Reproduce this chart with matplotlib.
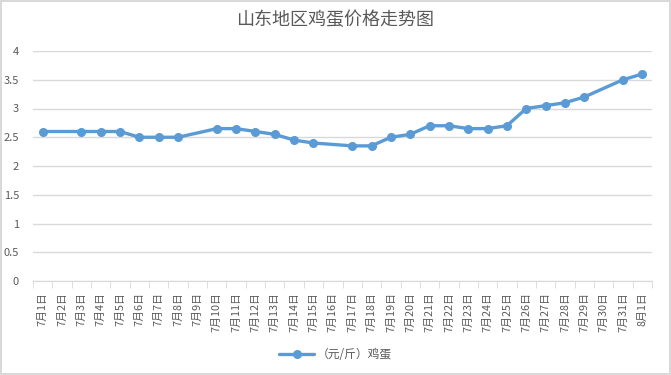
import numpy as np
import matplotlib
matplotlib.use('Agg')
import matplotlib.pyplot as plt

plt.rcParams['font.family'] = ['Noto Sans CJK SC', 'DejaVu Sans']

# ==== data ==== #
TITLE = '山东地区鸡蛋价格走势图'
SERIES_NAME = '（元/斤）鸡蛋'
dates = ['7月%d日' % d for d in range(1, 32)] + ['8月1日']
prices = [2.6, None, 2.6, 2.6, 2.6, 2.5, 2.5, 2.5, None, 2.65,
          2.65, 2.6, 2.55, 2.45, 2.4, None, 2.35, 2.35, 2.5, 2.55,
          2.7, 2.7, 2.65, 2.65, 2.7, 3.0, 3.05, 3.1, 3.2, None,
          3.5, 3.6]
yTicks = [0, 0.5, 1, 1.5, 2, 2.5, 3, 3.5, 4]

LINE_COLOR = '#5B9BD5'
TEXT_COLOR = '#595959'
GRID_COLOR = '#D9D9D9'

fig = plt.figure(figsize=(6.71, 3.75), dpi=100)
fig.patch.set_edgecolor('#D9D9D9')
fig.patch.set_linewidth(1.5)
ax = fig.add_axes([33 / 671, 1 - 281 / 375, 619 / 671, 230 / 375])

xs = [i for i, v in enumerate(prices) if v is not None]
ys = [v for v in prices if v is not None]
ax.plot(xs, ys, color=LINE_COLOR, linewidth=2.4, marker='o', markersize=5.5,
        label=SERIES_NAME, solid_capstyle='round')

ax.set_xlim(-0.5, len(dates) - 0.5)
ax.set_ylim(0, 4)
ax.set_yticks(yTicks)
ax.set_yticklabels(['%g' % t for t in yTicks])
ax.grid(axis='y', color=GRID_COLOR, linewidth=1)
ax.set_axisbelow(True)

ax.set_xticks(range(len(dates)))
ax.set_xticklabels(dates, rotation=90, va='top', ha='center')
ax.set_xticks(np.arange(-0.5, len(dates), 1), minor=True)
ax.tick_params(axis='x', which='major', length=0, pad=8, labelsize=7.8, labelcolor=TEXT_COLOR)
ax.tick_params(axis='x', which='minor', length=5, color=GRID_COLOR, direction='out')
ax.tick_params(axis='y', length=0, pad=10, labelsize=8, labelcolor=TEXT_COLOR)

for side in ['top', 'right', 'left']:
    ax.spines[side].set_visible(False)
ax.spines['bottom'].set_color(GRID_COLOR)

fig.text(0.5, 1 - 20 / 375, TITLE, ha='center', va='center', fontsize=13, color=TEXT_COLOR)
fig.legend(loc='center', bbox_to_anchor=(0.5, 1 - 355 / 375), frameon=False,
           fontsize=8.5, labelcolor=TEXT_COLOR, handlelength=3, handletextpad=0.2)

fig.savefig('out.png', dpi=100)
